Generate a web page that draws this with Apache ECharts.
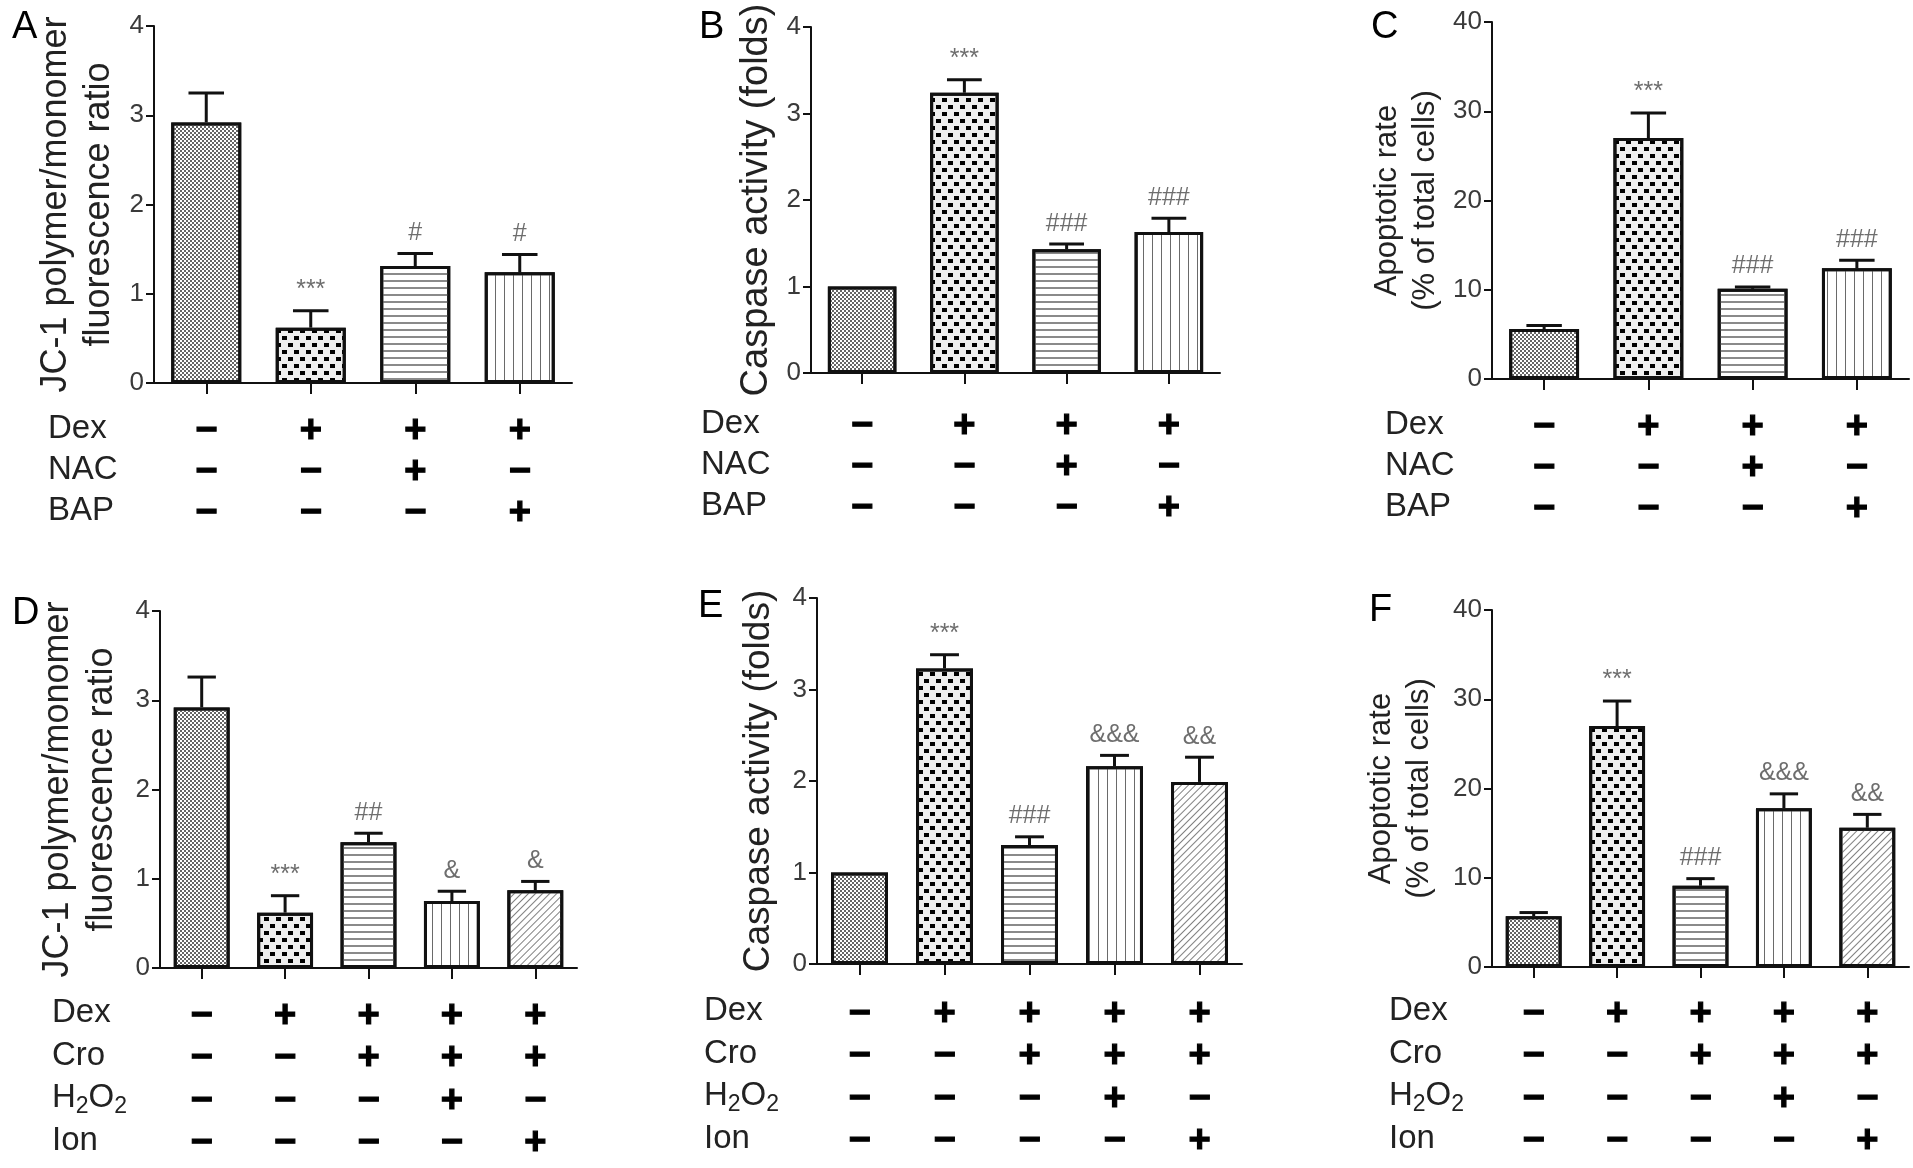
<!DOCTYPE html>
<html><head><meta charset="utf-8">
<script src="https://cdn.jsdelivr.net/npm/echarts@6/dist/echarts.min.js"></script>
<style>html,body{margin:0;padding:0;background:#fff}#c{width:1913px;height:1168px}</style>
</head><body><div id="c"></div>
<script>
// ---------------- data ----------------
const groupsTop = ['Ctrl', 'Dex', 'Dex+NAC', 'Dex+BAP'];
const groupsBottom = ['Ctrl', 'Dex', 'Dex+Cro', 'Dex+Cro+H2O2', 'Dex+Cro+Ion'];
const rowNamesTop = ['Dex', 'NAC', 'BAP'];
const rowNamesBottom = ['Dex', 'Cro', 'H2O2', 'Ion'];
const signsTop = [
  ['−', '+', '+', '+'],
  ['−', '−', '+', '−'],
  ['−', '−', '−', '+']
];
const signsBottom = [
  ['−', '+', '+', '+', '+'],
  ['−', '−', '+', '+', '+'],
  ['−', '−', '−', '+', '−'],
  ['−', '−', '−', '−', '+']
];
const jc1Title = 'JC-1 polymer/monomer\nfluorescence ratio';
const caspTitle = 'Caspase activity (folds)';
const apoTitle = 'Apoptotic rate\n(% of total cells)';

const meanA = [2.92, 0.62, 1.31, 1.24];
const semA  = [0.33, 0.19, 0.14, 0.20];
const noteA = ['', '***', '#', '#'];

const meanB = [1.00, 3.24, 1.43, 1.63];
const semB  = [0, 0.15, 0.06, 0.16];
const noteB = ['', '***', '###', '###'];

const meanC = [5.6, 27.0, 10.1, 12.4];
const semC  = [0.4, 2.8, 0.2, 0.9];
const noteC = ['', '***', '###', '###'];

const meanD = [2.92, 0.62, 1.41, 0.75, 0.87];
const semD  = [0.34, 0.19, 0.10, 0.11, 0.10];
const noteD = ['', '***', '##', '&', '&'];

const meanE = [1.00, 3.23, 1.30, 2.16, 1.99];
const semE  = [0, 0.15, 0.09, 0.12, 0.27];
const noteE = ['', '***', '###', '&&&', '&&'];

const meanF = [5.7, 27.0, 9.1, 17.8, 15.6];
const semF  = [0.4, 2.8, 0.8, 1.6, 1.5];
const noteF = ['', '***', '###', '&&&', '&&'];

const yTicksJC = [0, 4, 1];     // min, max, interval
const yTicksCasp = [0, 4, 1];
const yTicksApo = [0, 40, 10];

// ---------------- styles / layout ----------------
const FONT = "'Liberation Sans', Arial, Helvetica, sans-serif";
const INK = '#111';
const decals = {
  fine:   {symbol: 'rect', symbolSize: 1, color: '#666666', dashArrayX: [[2, 2], [0, 2, 2, 0]], dashArrayY: [2, 0]},
  dots:   {symbol: 'rect', symbolSize: 1, color: '#000', dashArrayX: [[5, 7], [0, 6, 5, 1]], dashArrayY: [4, 3]},
  hlines: {symbol: 'rect', symbolSize: 1, color: '#8a8a8a', dashArrayX: [1, 0], dashArrayY: [2, 5]},
  vlines: {symbol: 'rect', symbolSize: 1, color: '#6a6a6a', dashArrayX: [1, 8], dashArrayY: [1, 0]},
  diag:   {symbol: 'rect', symbolSize: 1, color: '#808080', dashArrayX: [1, 0], dashArrayY: [1, 4], rotation: -Math.PI / 4}
};
const fills = {fine: '#ffffff', dots: '#eeeeee', hlines: '#ffffff', vlines: '#ffffff', diag: '#ffffff'};
const decalTop = ['fine', 'dots', 'hlines', 'vlines'];
const decalBottom = ['fine', 'dots', 'hlines', 'vlines', 'diag'];

const panels = [
  {letter: 'A', groups: groupsTop, signs: signsTop, rows: rowNamesTop, mean: meanA, sem: semA, note: noteA, title: jc1Title, ticks: yTicksJC, dec: decalTop,
   left: 154, top: 26, width: 418, height: 357, lx: 26, ly: 29, nameGap: 33, nameSize: 36, nameLH: 43, rowMargin: 28, rowLH: 41, rowNameX: 48},
  {letter: 'B', groups: groupsTop, signs: signsTop, rows: rowNamesTop, mean: meanB, sem: semB, note: noteB, title: caspTitle, ticks: yTicksCasp, dec: decalTop,
   left: 811, top: 27, width: 409, height: 346, lx: 713, ly: 29, nameGap: 32, nameSize: 38, nameLH: 44, rowMargin: 33, rowLH: 41, rowNameX: 701},
  {letter: 'C', groups: groupsTop, signs: signsTop, rows: rowNamesTop, mean: meanC, sem: semC, note: noteC, title: apoTitle, ticks: yTicksApo, dec: decalTop,
   left: 1492, top: 22, width: 417, height: 357, lx: 1385, ly: 29, nameGap: 48, nameSize: 31, nameLH: 38, rowMargin: 28, rowLH: 41, rowNameX: 1385},
  {letter: 'D', groups: groupsBottom, signs: signsBottom, rows: rowNamesBottom, mean: meanD, sem: semD, note: noteD, title: jc1Title, ticks: yTicksJC, dec: decalBottom,
   left: 160, top: 611, width: 417, height: 357, lx: 26, ly: 615, nameGap: 36, nameSize: 36, nameLH: 44, rowMargin: 27, rowLH: 42.5, rowNameX: 52},
  {letter: 'E', groups: groupsBottom, signs: signsBottom, rows: rowNamesBottom, mean: meanE, sem: semE, note: noteE, title: caspTitle, ticks: yTicksCasp, dec: decalBottom,
   left: 817, top: 598, width: 425, height: 366, lx: 712, ly: 608, nameGap: 37, nameSize: 37, nameLH: 42, rowMargin: 29, rowLH: 42.5, rowNameX: 704},
  {letter: 'F', groups: groupsBottom, signs: signsBottom, rows: rowNamesBottom, mean: meanF, sem: semF, note: noteF, title: apoTitle, ticks: yTicksApo, dec: decalBottom,
   left: 1492, top: 610, width: 417, height: 357, lx: 1383, ly: 612, nameGap: 54, nameSize: 31, nameLH: 38, rowMargin: 26, rowLH: 42.5, rowNameX: 1389}
];

const grid = [], xAxis = [], yAxis = [], series = [], graphic = [];

panels.forEach((p, gi) => {
  grid.push({left: p.left, top: p.top, width: p.width, height: p.height, containLabel: false, outerBoundsMode: 'none'});
  xAxis.push({
    gridIndex: gi, type: 'category', data: p.groups,
    axisLine: {show: true, lineStyle: {color: INK, width: 2}},
    axisTick: {show: true, alignWithLabel: true, length: 11, lineStyle: {color: INK, width: 2}},
    axisLabel: {
      interval: 0, margin: p.rowMargin, color: '#000', fontFamily: FONT, fontSize: 38, fontWeight: 'bold',
      lineHeight: p.rowLH, textBorderColor: '#000', textBorderWidth: 1.2,
      formatter: (v, idx) => p.signs.map(r => r[idx]).join('\n')
    },
    splitLine: {show: false}
  });
  yAxis.push({
    gridIndex: gi, type: 'value', min: p.ticks[0], max: p.ticks[1], interval: p.ticks[2],
    name: p.title, nameLocation: 'middle', nameGap: p.nameGap, nameRotate: 90,
    nameTextStyle: {fontFamily: FONT, fontSize: p.nameSize, lineHeight: p.nameLH, color: '#222'},
    axisLine: {show: true, lineStyle: {color: INK, width: 2}},
    axisTick: {show: true, length: 8, lineStyle: {color: INK, width: 2}},
    axisLabel: {fontFamily: FONT, fontSize: 26, color: '#3a3a3a', margin: 10},
    splitLine: {show: false}
  });
  series.push({
    type: 'bar', xAxisIndex: gi, yAxisIndex: gi, barWidth: '67%', z: 2,
    itemStyle: {color: '#fff', borderColor: INK, borderWidth: 3},
    data: p.mean.map((m, i) => ({value: m, itemStyle: {color: fills[p.dec[i]], borderColor: INK, borderWidth: 3, decal: decals[p.dec[i]]}})),
    emphasis: {disabled: true}, silent: true
  });
  const notes = p.note;
  series.push({
    type: 'custom', xAxisIndex: gi, yAxisIndex: gi, z: 5, silent: true,
    data: p.mean.map((m, i) => [i, m, m + p.sem[i]]),
    renderItem: function (params, api) {
      const i = params.dataIndex;
      const x = api.value(0), m = api.value(1), t = api.value(2);
      const p0 = api.coord([x, m]);
      const p1 = api.coord([x, t]);
      const bw = api.size([1, 0])[0];
      const half = bw * 0.17;
      const children = [];
      if (t > m + 1e-9) {
        children.push({type: 'line', shape: {x1: p0[0], y1: p0[1], x2: p1[0], y2: p1[1]}, style: {stroke: INK, lineWidth: 3}});
        children.push({type: 'line', shape: {x1: p1[0] - half, y1: p1[1], x2: p1[0] + half, y2: p1[1]}, style: {stroke: INK, lineWidth: 3}});
      }
      if (notes[i]) {
        children.push({type: 'text', x: p1[0], y: p1[1] - 8,
          style: {text: notes[i], align: 'center', verticalAlign: 'bottom', font: '25px ' + FONT, fill: '#6e6e6e'}});
      }
      return {type: 'group', children: children};
    }
  });
  // panel letter
  graphic.push({type: 'text', left: p.lx - 14, top: p.ly - 20,
    style: {text: p.letter, font: '38px ' + FONT, fill: '#000'}});
  // row names
  const base = p.top + p.height + p.rowMargin;
  p.rows.forEach((name, r) => {
    const cy = base + p.rowLH * (r + 0.5) - 3;
    const rich = {
      n: {fontSize: 33, fontFamily: FONT, fill: '#222', lineHeight: 40},
      s: {fontSize: 23, fontFamily: FONT, fill: '#222', verticalAlign: 'bottom', lineHeight: 23}
    };
    const txt = name === 'H2O2' ? '{n|H}{s|2}{n|O}{s|2}' : '{n|' + name + '}';
    graphic.push({type: 'text', x: p.rowNameX, y: cy,
      style: {text: txt, rich: rich, verticalAlign: 'middle', align: 'left', font: '33px ' + FONT, fill: '#222'}});
  });
});

const chart = echarts.init(document.getElementById('c'), null, {renderer: 'canvas'});
chart.setOption({
  backgroundColor: '#fff',
  animation: false,
  grid: grid, xAxis: xAxis, yAxis: yAxis, series: series, graphic: graphic
});
</script>
</body></html>
